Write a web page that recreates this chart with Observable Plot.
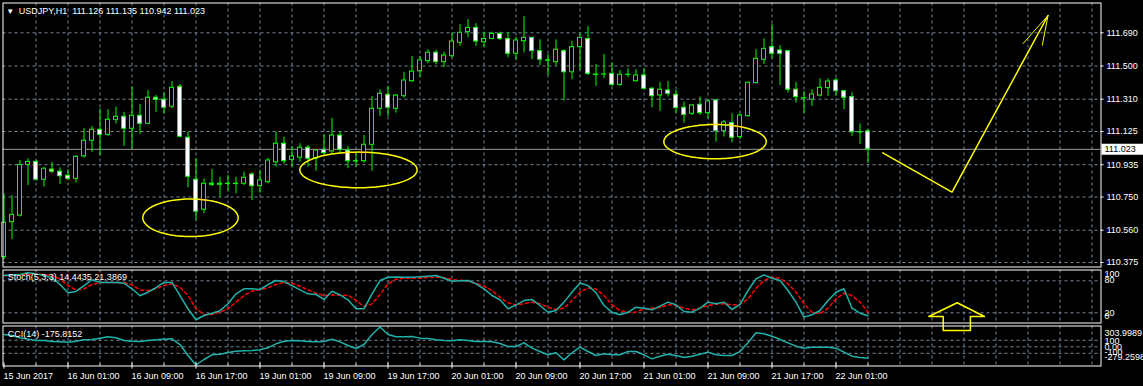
<!DOCTYPE html>
<html><head><meta charset="utf-8">
<script src="https://cdn.jsdelivr.net/npm/d3@7"></script>
<script src="https://cdn.jsdelivr.net/npm/@observablehq/plot@0.6"></script>
<style>
html,body{margin:0;padding:0;background:#000;}
#chart{position:relative;width:1143px;height:386px;background:#000;overflow:hidden;}
</style></head><body><div id="chart"></div>
<script>
// ---------- DATA (USDJPY H1, bars indexed 0..108) ----------
const opens = [110.406,110.606,110.644,110.934,110.951,110.849,110.907,110.895,110.872,110.854,
110.983,111.072,111.135,111.106,111.192,111.209,111.141,111.215,111.169,111.318,
111.307,111.267,111.381,111.089,110.849,110.677,110.826,110.820,110.826,110.824,
110.826,110.879,110.812,110.835,110.949,111.055,110.963,110.975,111.032,110.969,
111.020,111.011,111.102,111.016,110.955,110.955,111.049,111.255,111.335,111.255,
111.327,111.413,111.470,111.528,111.576,111.522,111.556,111.633,111.694,111.718,
111.636,111.655,111.684,111.655,111.570,111.642,111.661,111.585,111.532,111.522,
111.585,111.464,111.608,111.655,111.451,111.451,111.455,111.392,111.450,111.413,
111.446,111.370,111.331,111.360,111.335,111.261,111.226,111.278,111.230,111.303,
111.127,111.173,111.093,111.213,111.402,111.536,111.608,111.589,111.585,111.364,
111.316,111.308,111.331,111.373,111.417,111.356,111.322,111.121,111.126];
const highs = [110.768,110.758,110.959,110.969,110.959,110.919,110.948,110.917,110.906,110.987,
111.141,111.154,111.255,111.250,111.265,111.235,111.379,111.280,111.360,111.331,
111.347,111.411,111.394,111.121,110.969,110.854,110.907,110.864,110.873,110.864,
110.892,110.889,110.902,110.972,111.121,111.093,111.039,111.055,111.045,111.022,
111.106,111.201,111.125,111.039,111.007,111.102,111.326,111.364,111.383,111.337,
111.464,111.555,111.555,111.593,111.589,111.579,111.688,111.737,111.766,111.742,
111.694,111.694,111.694,111.690,111.665,111.783,111.665,111.650,111.566,111.650,
111.593,111.642,111.684,111.726,111.509,111.566,111.517,111.474,111.484,111.478,
111.484,111.375,111.407,111.411,111.360,111.293,111.280,111.322,111.307,111.307,
111.188,111.226,111.226,111.407,111.593,111.655,111.738,111.617,111.589,111.407,
111.354,111.364,111.427,111.427,111.430,111.360,111.347,111.169,111.135];
const lows = [110.391,110.507,110.635,110.816,110.841,110.807,110.883,110.822,110.845,110.829,
110.972,111.006,110.987,111.097,111.169,111.040,111.026,111.108,111.163,111.235,
111.226,111.255,111.089,110.803,110.616,110.654,110.810,110.749,110.784,110.768,
110.816,110.730,110.772,110.826,110.921,110.936,110.921,110.949,110.921,110.898,
110.996,110.997,110.997,110.912,110.921,110.944,110.898,111.211,111.211,111.230,
111.316,111.407,111.436,111.513,111.507,111.490,111.547,111.613,111.662,111.612,
111.608,111.650,111.646,111.547,111.532,111.574,111.536,111.503,111.445,111.503,
111.299,111.422,111.474,111.445,111.383,111.427,111.383,111.383,111.432,111.408,
111.364,111.261,111.241,111.322,111.230,111.173,111.217,111.217,111.198,111.064,
111.093,111.059,111.078,111.207,111.398,111.509,111.541,111.388,111.345,111.288,
111.230,111.269,111.322,111.326,111.327,111.250,111.097,111.051,110.942];
const closes = [110.603,110.648,110.934,110.951,110.849,110.912,110.895,110.869,110.854,110.980,
111.072,111.135,111.106,111.192,111.209,111.141,111.215,111.169,111.318,111.307,
111.261,111.375,111.095,110.866,110.666,110.826,110.820,110.826,110.824,110.826,
110.860,110.812,110.845,110.959,111.055,110.955,110.982,111.032,110.969,111.016,
111.001,111.102,111.020,110.955,110.953,111.049,111.255,111.341,111.261,111.331,
111.417,111.468,111.532,111.576,111.522,111.560,111.640,111.690,111.718,111.640,
111.655,111.684,111.655,111.570,111.646,111.661,111.585,111.536,111.530,111.593,
111.464,111.608,111.661,111.455,111.449,111.452,111.392,111.450,111.449,111.446,
111.370,111.327,111.364,111.341,111.259,111.220,111.274,111.230,111.297,111.127,
111.177,111.089,111.217,111.404,111.541,111.598,111.570,111.570,111.364,111.322,
111.315,111.337,111.375,111.411,111.356,111.318,111.121,111.120,111.023];

const stochMain = [89.9,91,92,95,93,90,85.5,73,57.5,60,
71,82,77,77,77,75.5,65,52,58.6,67,
77,77,52,27.5,7,15,19,24,37,55.6,
65,65,63.7,73,80.5,78.6,71,63,55.6,54.3,
45,60.5,53.7,44.4,27.5,27.5,55.6,80.5,86.7,87,
86.7,86.7,87.4,88.6,89.9,84.9,79.3,80,80.5,74.3,
65,52.4,44.4,27.5,35,43,45,33.7,21,24.3,
40,58.6,76,71,57.5,33.7,21,16.2,21,30.5,
28.7,25.6,32.4,40,35,22.5,21.2,28.7,40,36.9,
40,26.2,35.6,61.8,83.7,91.2,84.9,80.5,61.8,40,
11.9,16.2,24.3,43,58.6,65,28.7,19.3,14.4435];
const stochSignal = [89.9,89.9,90.5,91.8,93,91.8,89.9,83.6,71.2,63,
64.9,73,76.8,76.8,76.8,76.8,72.4,63,61.8,64.9,
71.2,74.3,68,52.4,27.5,16.9,16.9,21.2,27.5,40,
52.4,60.5,63.7,66.8,73,76.8,75.5,69.9,63,56.8,
52.4,53.7,53.1,53.1,43.1,31.8,36.8,54.3,74.3,83,
84.9,84.9,84.9,86.1,86.8,86.1,82.4,81.1,79.3,75.5,
69.9,61.8,49.3,38.7,35,36.8,40,36.8,30.6,26.2,
28.7,43.1,58.7,66.8,64.9,52.4,35,24.3,21.2,21.2,
27,28.7,30,35,33.7,28.7,25.6,28.7,33.7,36.2,
36.8,35,35.6,46.2,66.2,80.5,86.8,84.9,74.3,58.7,
36.8,21.2,18.1,28.7,46.2,56.8,52.4,40,21.3869];
const cciValues = [189,173,138,117,97,97,81,76,71,86,
107,112,133,153,138,97,86,81,97,107,
117,122,35,-133,-279.2598,-195,-123,-113,-87,-67,
-62,-57,-46,-16,46,86,97,92,81,76,
81,117,76,20,-26,35,189,303.9989,189,153,
153,158,133,128,107,97,92,107,97,81,
81,76,51,5,5,61,-21,-72,-123,-92,
-200,-92,-6,-72,-134,-108,-123,-123,-72,-72,
-123,-185,-144,-113,-134,-164,-144,-113,-82,-123,
-134,-134,-73,61,215,199,163,112,61,10,
-21,-6,-6,-6,-21,-82,-144,-164,-175.8152];

const priceTicks = [111.690,111.500,111.310,111.125,110.935,110.750,110.560,110.375];
const priceTickLabels = ["111.690","111.500","111.310","111.125","110.935","110.750","110.560","110.375"];
const timeLabelIdx = [0,8,16,24,32,40,48,56,64,72,80,88,96,104];
const timeLabels = ["15 Jun 2017","16 Jun 01:00","16 Jun 09:00","16 Jun 17:00","19 Jun 01:00","19 Jun 09:00",
  "19 Jun 17:00","20 Jun 01:00","20 Jun 09:00","20 Jun 17:00","21 Jun 01:00","21 Jun 09:00","21 Jun 17:00","22 Jun 01:00"];
const stochLevels = [80, 20];
const stochLabels = [{v:100,t:"100",dy:3.5},{v:80,t:"80",dy:-0.5},{v:20,t:"20",dy:0},{v:0,t:"0",dy:-7}];
const cciLevels = [100, 0, -100];
const cciLabels = [{v:303.9989,t:"303.9989",dy:6.5},{v:100,t:"100",dy:0.7},{v:0,t:"0.00",dy:0},{v:-100,t:"-100",dy:-1.5},{v:-279.2598,t:"-279.2598",dy:-7.5}];

// hand-drawn yellow objects (bar index, price / indicator value)
const ellipseShapes = [
  {id:1, cx:23.31, cy:110.631, rx:5.96, ry:0.1076},
  {id:2, cx:44.31, cy:110.905, rx:7.33, ry:0.102},
  {id:3, cx:88.88, cy:111.067, rx:6.4, ry:0.098}
];
const arrowPath = [{x:109.85,y:111.003},{x:118.5,y:110.778},{x:130.5,y:111.789}];
const arrowHead = [{x1:130.5,y1:111.789,x2:127.35,y2:111.627},{x1:130.5,y1:111.789,x2:129.78,y2:111.617}];
const upArrow = [{x:115.6,y:13.1},{x:119.15,y:38.8},{x:122.56,y:13.1},{x:120.8,y:13.1},{x:120.8,y:-13.1},{x:117.4,y:-13.1},{x:117.4,y:13.1},{x:115.6,y:13.1}];

// ---------- BUILD ----------
const bars = opens.map((o,i)=>({i, o, h:highs[i], l:lows[i], c:closes[i]}));
const bulls = bars.filter(d=>d.c>=d.o), bears = bars.filter(d=>d.c<d.o);
const lastClose = closes[closes.length-1];
const gridIdx = d3.range(4, 137, 4);
const axisTicks = d3.range(0, 109, 4);
const majorTicks = axisTicks.filter(d=>d%8===0), minorTicks = axisTicks.filter(d=>d%8!==0);
const ellipsePts = ellipseShapes.flatMap(e => d3.range(0,121).map(k=>{const a=k/120*2*Math.PI; return {id:e.id, x:e.cx+e.rx*Math.cos(a), y:e.cy+e.ry*Math.sin(a)};}));
const idx = d3.range(stochMain.length);

const GRID = "#778899", LIME = "#00ff00", TEAL = "#20b2aa", YEL = "#ffff00";
const FONT = "'Liberation Sans', Arial, sans-serif";
const FS = 9;
const styleAt = top => ({background:"transparent", color:"white", fontFamily:FONT, fontSize:"9px", overflow:"visible", position:"absolute", left:"0px", top: top+"px"});
const common = {width:1143, marginLeft:2.5, marginRight:42.5, x:{domain:[-0.125,137.125], axis:null}};
const gridX = () => Plot.ruleX(gridIdx, {stroke:GRID, strokeDasharray:"3,3"});
const sideLabels = arr => arr.map(d => Plot.text([d], {y:"v", text:"t", dy:d.dy, frameAnchor:"right", dx:3.5, textAnchor:"start", lineAnchor:"middle", fill:"white", fontSize:FS}));

const main = Plot.plot({
  ...common, height:268, marginTop:2.5, marginBottom:1.5,
  y:{domain:[110.3494,111.8606], axis:null},
  style: styleAt(0),
  marks:[
    gridX(),
    Plot.ruleY(priceTicks, {stroke:GRID, strokeDasharray:"3,3"}),
    Plot.ruleY([lastClose], {stroke:"#9a9a9a"}),
    Plot.ruleX(bars, {x:"i", y1:"l", y2:"h", stroke:LIME}),
    Plot.rect(bulls, {x1:d=>d.i-0.25, x2:d=>d.i+0.25, y1:"o", y2:"c", fill:"#000", stroke:LIME}),
    Plot.rect(bears, {x1:d=>d.i-0.25, x2:d=>d.i+0.25, y1:"o", y2:"c", fill:"#fff", stroke:LIME}),
    Plot.line(ellipsePts, {x:"x", y:"y", z:"id", stroke:YEL}),
    Plot.line(arrowPath, {x:"x", y:"y", stroke:YEL}),
    Plot.link(arrowHead, {x1:"x1", y1:"y1", x2:"x2", y2:"y2", stroke:YEL}),
    Plot.frame({stroke:"white"}),
    Plot.ruleY(priceTicks, {stroke:"white", insetLeft:1098, insetRight:-3}),
    Plot.text(priceTicks, {y:d=>d, text:(d,i)=>priceTickLabels[i], frameAnchor:"right", dx:5.5, textAnchor:"start", lineAnchor:"middle", fill:"white", fontSize:FS}),
    Plot.ruleY([lastClose], {stroke:"white", strokeWidth:11, insetLeft:1099, insetRight:-42.5}),
    Plot.text([lastClose], {y:d=>d, text:d=>d.toFixed(3), frameAnchor:"right", dx:3.5, textAnchor:"start", lineAnchor:"middle", fill:"black", fontSize:FS}),
    Plot.text(["\u25BC"], {frameAnchor:"top-left", dx:7.2, dy:8.5, textAnchor:"middle", lineAnchor:"middle", fill:"white", fontSize:8}),
    Plot.text([`USDJPY,H1\u00a0\u00a0${opens[108].toFixed(3)}\u00a0${highs[108].toFixed(3)}\u00a0${lows[108].toFixed(3)}\u00a0${closes[108].toFixed(3)}`], {frameAnchor:"top-left", dx:15.8, dy:8.5, textAnchor:"start", lineAnchor:"middle", fill:"white", fontSize:FS})
  ]
});

const stoch = Plot.plot({
  ...common, height:74, marginTop:3.5, marginBottom:17.5,
  y:{domain:[0.88,100.26], axis:null},
  style: styleAt(266),
  marks:[
    gridX(),
    Plot.ruleY(stochLevels, {stroke:GRID, strokeDasharray:"3,3"}),
    Plot.line(idx, {x:d=>d, y:d=>stochSignal[d], stroke:"red", strokeDasharray:"3,3"}),
    Plot.line(idx, {x:d=>d, y:d=>stochMain[d], stroke:TEAL}),
    Plot.line(upArrow, {x:"x", y:"y", stroke:YEL}),
    Plot.frame({stroke:"white"}),
    ...sideLabels(stochLabels),
    Plot.text([`Stoch(5,3,3) ${stochMain[108].toFixed(4)} ${stochSignal[108].toFixed(4)}`], {frameAnchor:"top-left", dx:4.8, dy:7.2, textAnchor:"start", lineAnchor:"middle", fill:"white", fontSize:FS})
  ]
});

const cci = Plot.plot({
  ...common, height:62, marginTop:1.5, marginBottom:20.5,
  y:{domain:[-294.7,319.3], axis:null},
  style: styleAt(324),
  marks:[
    gridX(),
    Plot.ruleY(cciLevels, {stroke:GRID, strokeDasharray:"3,3"}),
    Plot.line(idx, {x:d=>d, y:d=>cciValues[d], stroke:TEAL}),
    Plot.frame({stroke:"white"}),
    ...sideLabels(cciLabels),
    Plot.text([`CCI(14) ${cciValues[108].toFixed(4)}`], {frameAnchor:"top-left", dx:4.8, dy:8.5, textAnchor:"start", lineAnchor:"middle", fill:"white", fontSize:FS}),
    Plot.ruleX(majorTicks, {stroke:"white", insetTop:37, insetBottom:-3}),
    Plot.ruleX(minorTicks, {stroke:"white", insetTop:38, insetBottom:0}),
    Plot.text(timeLabelIdx, {x:d=>d, text:(d,i)=>timeLabels[i], frameAnchor:"bottom", dy:10, dx:-0.5, textAnchor:"start", lineAnchor:"middle", fill:"white", fontSize:FS})
  ]
});

const el = document.getElementById("chart");
el.appendChild(main); el.appendChild(stoch); el.appendChild(cci);
</script></body></html>
